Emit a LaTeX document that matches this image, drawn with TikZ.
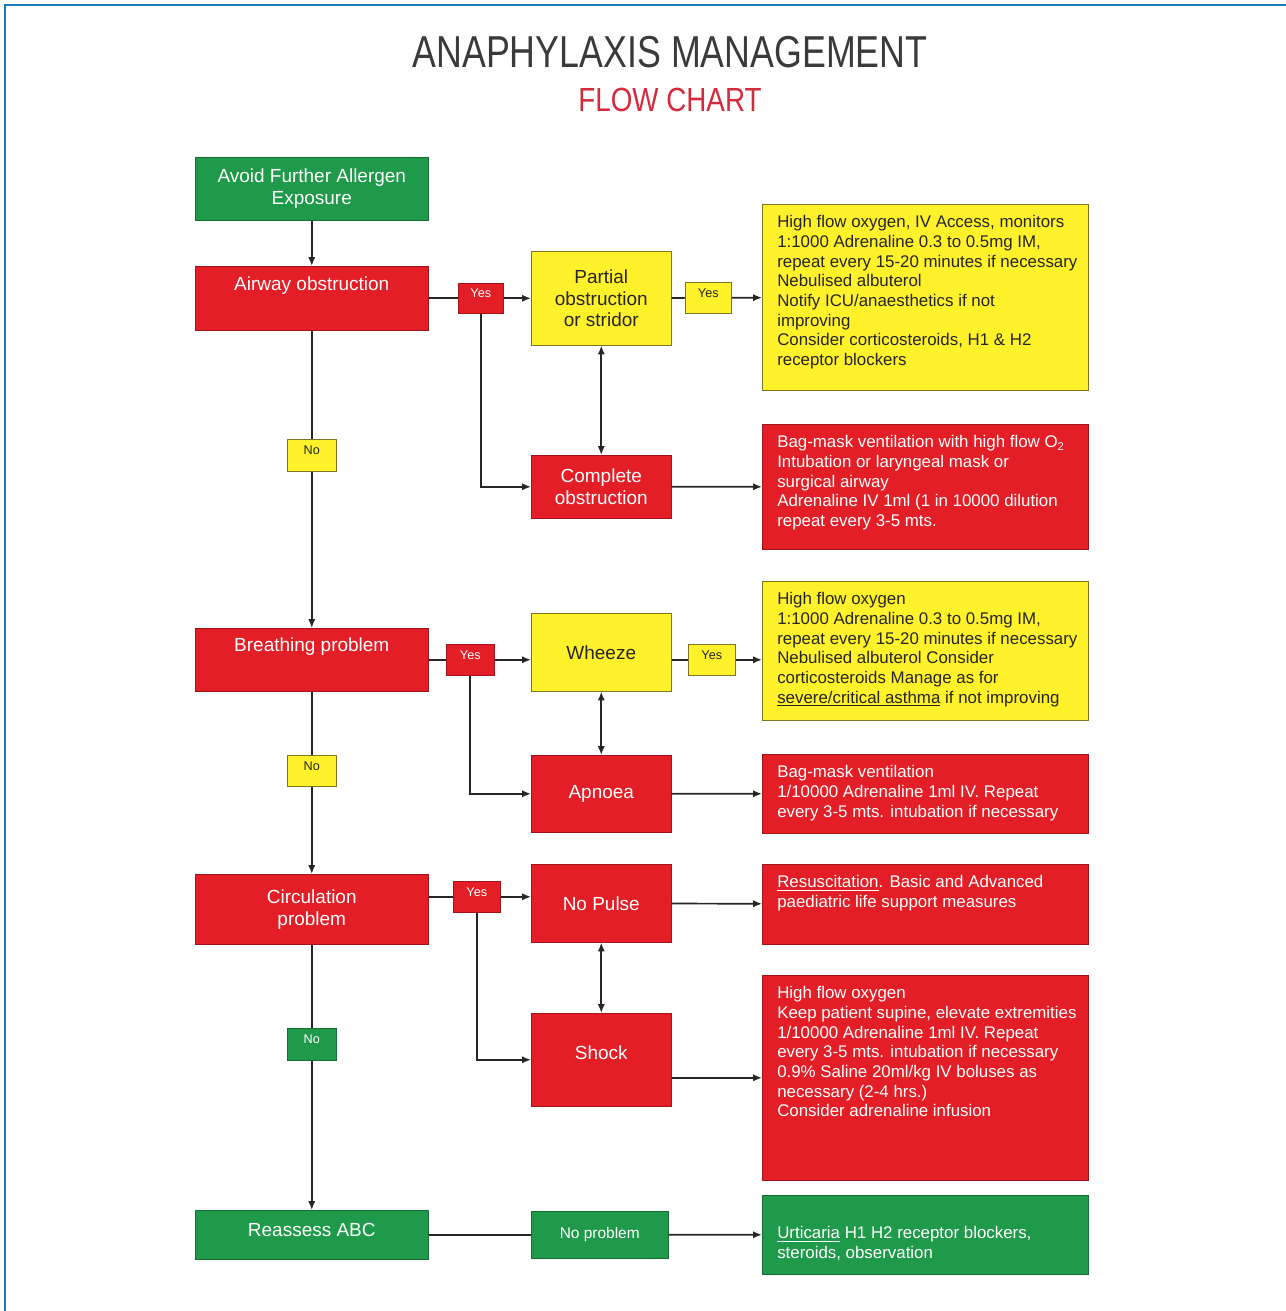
\documentclass[tikz,border=0pt]{standalone}
\usepackage{fontspec}
\setmainfont{Liberation Sans}
\usepackage{xcolor}
\usepackage{graphicx}
\usetikzlibrary{arrows.meta}

\definecolor{abcred}{HTML}{E41E26}
\definecolor{abcgreen}{HTML}{1F9A4A}
\definecolor{abcyellow}{HTML}{FFF12A}
\definecolor{abcolive}{HTML}{7F7420}
\definecolor{frameblue}{HTML}{1B7DB4}
\definecolor{titlegray}{HTML}{3A3A3A}
\definecolor{titlered}{HTML}{D42A3C}

\newcommand{\pxl}{0.025cm}
\newcommand{\infotext}[2]{\parbox[t][#1][t]{7.85cm}{\raggedright\leftskip=0.225cm\relax
  \rightskip=-1cm plus 1fil\relax #2}}

\begin{document}
\begin{tikzpicture}[x=0.025cm, y=-0.025cm,
  box/.style={anchor=north west, inner sep=0pt, align=center,
              font=\fontsize{13.5}{15.5}\selectfont},
  dims/.style 2 args={minimum width=#1*\pxl, minimum height=#2*\pxl},
  tag/.style={box, font=\fontsize{9}{10}\selectfont, text depth=7pt},
  info/.style={anchor=north west, inner xsep=0.15cm, inner ysep=0.28cm,
               font=\fontsize{12}{14}\selectfont},
  rd/.style={fill=abcred, draw=abcred!70!black, text=white},
  gn/.style={fill=abcgreen, draw=abcgreen!70!black, text=white},
  yw/.style={fill=abcyellow, draw=abcolive, text=black!85},
  link/.style={draw=black!85, line width=1.2pt},
  >={Latex[length=2.2mm,width=1.8mm]}]
\useasboundingbox (0,0) rectangle (1286,1311);
\draw[frameblue, line width=2pt] (5,1311) -- (5,5) -- (1286,5);

% title
\node[text=titlegray, font=\fontsize{31.8}{34}\selectfont] (title) at (670,52)
  {\scalebox{0.8}[1]{ANAPHYLAXIS MANAGEMENT}};
\node[text=titlered, font=\fontsize{23.8}{26}\selectfont] (subtitle) at (670,100)
  {\scalebox{0.83}[1]{FLOW CHART}};

% main column
\node[box, gn, dims={233}{63}] (avoid) at (195,157) {Avoid Further Allergen\\Exposure};
\node[box, rd, dims={233}{64}, text depth=21pt] (airway) at (195,266) {Airway obstruction};
\node[box, rd, dims={233}{63}, text depth=21pt] (breath) at (195,628) {Breathing problem};
\node[box, rd, dims={233}{70}] (circ) at (195,874) {Circulation\\problem};
\node[box, gn, dims={233}{49}, text depth=7pt] (reassess) at (195,1210) {Reassess ABC};

\node[tag, yw, dims={49}{32}] (no1) at (287,439) {No};
\node[tag, yw, dims={49}{31}] (no2) at (287,755) {No};
\node[tag, gn, dims={49}{32}] (no3) at (287,1028) {No};

% airway
\node[tag, rd, dims={45}{30}] (yes1) at (458,283) {Yes};
\node[box, yw, dims={140}{94}] (partial) at (531,251) {Partial\\obstruction\\or stridor};
\node[box, rd, dims={140}{63}] (complete) at (531,455) {Complete\\obstruction};
\node[tag, yw, dims={46}{31}] (yes1y) at (685,282) {Yes};
\node[info, yw] (treat1) at (762,204) {\infotext{4.09cm}{High flow oxygen, IV Access, monitors\\
  1:1000 Adrenaline 0.3 to 0.5mg IM,\\
  repeat every 15-20 minutes if necessary\\
  Nebulised albuterol\\
  Notify ICU/anaesthetics if not\\
  improving\\
  Consider corticosteroids, H1 \& H2\\
  receptor blockers}};
\node[info, rd] (treat2) at (762,424) {\infotext{2.565cm}{Bag-mask ventilation with high flow O\textsubscript{2}\\
  Intubation or laryngeal mask or\\
  surgical airway\\
  Adrenaline IV 1ml (1 in 10000 dilution\\
  repeat every 3-5 mts.}};

% breathing
\node[tag, rd, dims={48}{31}] (yes2) at (446,644) {Yes};
\node[box, yw, dims={140}{78}] (wheeze) at (531,613) {Wheeze};
\node[box, rd, dims={140}{77}] (apnoea) at (531,755) {Apnoea};
\node[tag, yw, dims={47}{31}] (yes2y) at (688,644) {Yes};
\node[info, yw] (treat3) at (762,581) {\infotext{2.915cm}{High flow oxygen\\
  1:1000 Adrenaline 0.3 to 0.5mg IM,\\
  repeat every 15-20 minutes if necessary\\
  Nebulised albuterol Consider\\
  corticosteroids Manage as for\\
  \underline{severe/critical asthma} if not improving}};
\node[info, rd] (treat4) at (762,754) {\infotext{1.415cm}{Bag-mask ventilation\\
  1/10000 Adrenaline 1ml IV. Repeat\\
  every 3-5 mts. intubation if necessary}};

% circulation
\node[tag, rd, dims={47}{31}] (yes3) at (453,881) {Yes};
\node[box, rd, dims={140}{78}] (nopulse) at (531,864) {No Pulse};
\node[box, rd, dims={140}{93}, text depth=10pt] (shock) at (531,1013) {Shock};
\node[info, rd] (treat5) at (762,864) {\infotext{1.44cm}{\underline{Resuscitation}. Basic and Advanced\\
  paediatric life support measures}};
\node[info, rd] (treat6) at (762,975) {\infotext{4.565cm}{High flow oxygen\\
  Keep patient supine, elevate extremities\\
  1/10000 Adrenaline 1ml IV. Repeat\\
  every 3-5 mts. intubation if necessary\\
  0.9\% Saline 20ml/kg IV boluses as\\
  necessary (2-4 hrs.)\\
  Consider adrenaline infusion}};

% reassess
\node[box, gn, dims={137}{47}, font=\fontsize{11}{13}\selectfont] (noprob) at (531,1211) {No problem};
\node[info, gn] (treat7) at (762,1195) {\infotext{1.415cm}{\vspace*{0.5cm}\underline{Urticaria} H1 H2 receptor blockers,\\
  steroids, observation}};

% connectors
\draw[link, ->] (avoid) -- (airway);
\draw[link] (airway) -- (no1);
\draw[link, ->] (no1) -- (breath);
\draw[link] (breath) -- (no2);
\draw[link, ->] (no2) -- (circ);
\draw[link] (circ) -- (no3);
\draw[link, ->] (no3) -- (reassess);

\draw[link] (airway) -- (yes1);
\draw[link, ->] (yes1) -- (partial);
\draw[link, ->] (yes1) |- (complete);
\draw[link, <->] (partial) -- (complete);
\draw[link] (partial) -- (yes1y);
\draw[link, ->] (yes1y) -- (treat1);
\draw[link, ->] (complete) -- (treat2);

\draw[link] (breath) -- (yes2);
\draw[link, ->] (yes2) -- (yes2 -| wheeze.west);
\draw[link, ->] (yes2) |- (apnoea);
\draw[link, <->] (wheeze) -- (apnoea);
\draw[link] (yes2y -| wheeze.east) -- (yes2y);
\draw[link, ->] (yes2y) -- (yes2y -| treat3.west);
\draw[link, ->] (apnoea) -- (treat4);

\draw[link] (yes3 -| circ.east) -- (yes3);
\draw[link, ->] (yes3) -- (yes3 -| nopulse.west);
\draw[link, ->] (yes3) |- (shock);
\draw[link, <->] (nopulse) -- (shock);
\draw[link, ->] (nopulse) -- (treat5);
\draw[link, ->] (treat6 -| shock.east) -- (treat6);

\draw[link] (reassess) -- (noprob);
\draw[link, ->] (noprob) -- (treat7);
\end{tikzpicture}
\end{document}
